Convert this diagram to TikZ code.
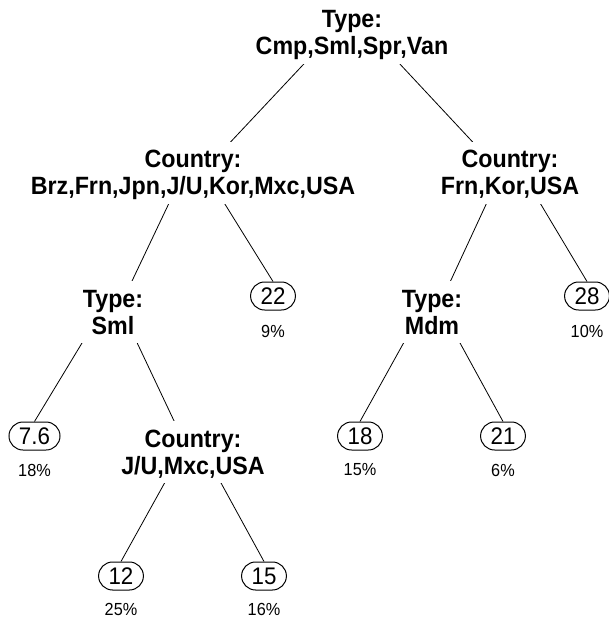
\documentclass[tikz,border=0pt]{standalone}
\usepackage{fontspec}
\setmainfont{Liberation Sans}
\newfontfamily\condfont[FakeStretch=0.93]{Liberation Sans}
\pgfdeclarelayer{bg}
\pgfsetlayers{bg,main}
\tikzset{
  splitnode/.style={fill=white, align=center, inner xsep=2pt, inner ysep=4pt,
    font=\condfont\fontsize{25}{27}\selectfont\bfseries},
  leaf/.style={draw, line width=1pt, fill=white, rounded corners=14pt,
    minimum height=28pt, inner xsep=10pt, inner ysep=0pt,
    font=\condfont\fontsize{24}{27}\selectfont},
  pct/.style={inner sep=0pt, font=\condfont\fontsize{17.5}{20}\selectfont},
  conn/.style={line width=0.8pt},
}
\newcommand\splittext[2]{\rule{0pt}{22pt}#1\\#2\rule[-5pt]{0pt}{5pt}}
\begin{document}
\begin{tikzpicture}[x=1pt,y=-1pt]
\useasboundingbox (0,0) rectangle (609,620);
% split nodes (baseline of first line + 5)
\node[splitnode] (root) at (352,33)  {\splittext{Type:}{Cmp,Sml,Spr,Van}};
\node[splitnode] (cl)   at (193,173) {\splittext{Country:}{Brz,Frn,Jpn,J/U,Kor,Mxc,USA}};
\node[splitnode] (cr)   at (510,173) {\splittext{Country:}{Frn,Kor,USA}};
\node[splitnode] (ts)   at (113,312) {\splittext{Type:}{Sml}};
\node[splitnode] (tm)   at (432,312) {\splittext{Type:}{Mdm}};
\node[splitnode] (cj)   at (193,452) {\splittext{Country:}{J/U,Mxc,USA}};
% leaves
\node[leaf] (l22) at (273,296) {22};
\node[pct]  (p22) at (273,331) {9\%};
\node[leaf] (l28) at (587,296) {28};
\node[pct]  (p28) at (587,331) {10\%};
\node[leaf] (l76) at (34.5,436) {7.6};
\node[pct]  (p76) at (34.5,470) {18\%};
\node[leaf] (l18) at (360,436) {18};
\node[pct]  (p18) at (360,470) {15\%};
\node[leaf] (l21) at (503,436) {21};
\node[pct]  (p21) at (503,470) {6\%};
\node[leaf] (l12) at (121,576) {12};
\node[pct]  (p12) at (121,609) {25\%};
\node[leaf] (l15) at (264,576) {15};
\node[pct]  (p15) at (264,609) {16\%};
% connectors
\begin{pgfonlayer}{bg}
\draw[conn] ([yshift=-11pt]root.north) -- ([yshift=-9pt]cl.center);
\draw[conn] ([yshift=-11pt]root.north) -- ([yshift=-9pt]cr.center);
\draw[conn] ([yshift=-11pt]cl.north) -- ([yshift=-9pt]ts.center);
\draw[conn] ([yshift=-11pt]cl.north) -- (l22.north);
\draw[conn] ([yshift=-11pt]cr.north) -- ([yshift=-9pt]tm.center);
\draw[conn] ([yshift=-11pt]cr.north) -- (l28.north);
\draw[conn] ([yshift=-11pt]ts.north) -- (l76.north);
\draw[conn] ([yshift=-11pt]ts.north) -- ([yshift=-9pt]cj.center);
\draw[conn] ([yshift=-11pt]tm.north) -- (l18.north);
\draw[conn] ([yshift=-11pt]tm.north) -- (l21.north);
\draw[conn] ([yshift=-11pt]cj.north) -- (l12.north);
\draw[conn] ([yshift=-11pt]cj.north) -- (l15.north);
\end{pgfonlayer}
\end{tikzpicture}
\end{document}
